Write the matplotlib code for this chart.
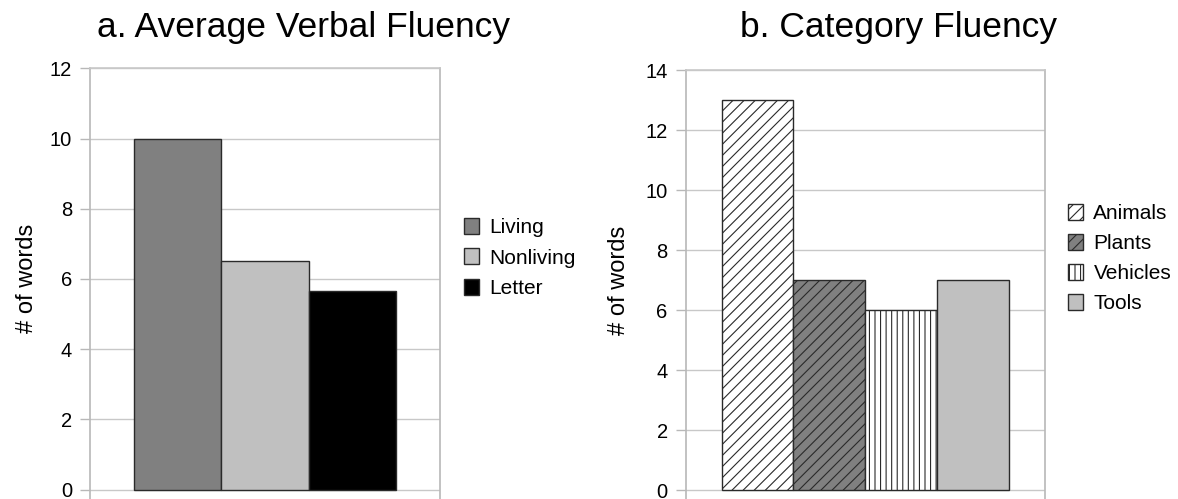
import matplotlib.pyplot as plt
import numpy as np

plt.rcParams["font.family"] = ["Liberation Sans", "DejaVu Sans"]
plt.rcParams["hatch.linewidth"] = 0.8

# panel a: average verbal fluency
verbal_labels = ["Living", "Nonliving", "Letter"]
verbal_values = [10.0, 6.5, 5.65]
verbal_colors = ["#808080", "#c0c0c0", "#000000"]

# panel b: category fluency
category_labels = ["Animals", "Plants", "Vehicles", "Tools"]
category_values = [13, 7, 6, 7]
category_colors = ["#ffffff", "#808080", "#ffffff", "#c0c0c0"]
category_hatches = ["///", "///", "|||", ""]

GRID = "#c8c8c8"
SPINE = "#b8b8b8"
EDGE = "#2a2a2a"

W, H = 1178, 499
fig = plt.figure(figsize=(W / 100, H / 100), dpi=100)


def style_axes(ax, ymax, step):
    ax.set_yticks(np.arange(0, ymax + 1, step))
    ax.grid(True, axis="y", color=GRID, linewidth=1.0)
    ax.set_axisbelow(True)
    ax.spines["bottom"].set_visible(False)
    for side in ["left", "right", "top"]:
        ax.spines[side].set_color(SPINE)
        ax.spines[side].set_linewidth(1.2)
    ax.spines["top"].set_color(GRID)
    ax.tick_params(axis="y", length=7, width=1, color=SPINE, labelsize=14.5, pad=6)
    ax.tick_params(axis="x", length=0, labelbottom=False)


legend_kw = dict(bbox_transform=fig.transFigure, frameon=False, fontsize=15,
                 handlelength=0.72, handleheight=0.8, handletextpad=0.5,
                 borderpad=0, borderaxespad=0, loc="center left")

# --- a. Average Verbal Fluency
ax1 = fig.add_axes([90 / W, 0, 350 / W, (H - 68.3) / H])
x1 = np.arange(len(verbal_values))
for i in range(len(verbal_values)):
    ax1.bar(x1[i], verbal_values[i], width=1.0, color=verbal_colors[i],
            edgecolor=EDGE, linewidth=1.0, label=verbal_labels[i])
ax1.set_xlim(-1, len(verbal_values))
ax1.set_ylim(-(H - 489.5) / 35.1, 12)
style_axes(ax1, 12, 2)
ax1.legend(bbox_to_anchor=(464 / W, 1 - 258 / H), labelspacing=0.53, **legend_kw)
fig.text(303.5 / W, 1 - 37 / H, "a. Average Verbal Fluency", fontsize=25.5,
         ha="center", va="baseline")
fig.text(27 / W, 1 - 278 / H, "# of words", fontsize=17, rotation=90,
         ha="center", va="center")

# --- b. Category Fluency
ax2 = fig.add_axes([685.7 / W, 0, 359 / W, (H - 70) / H])
x2 = np.arange(len(category_values))
for i in range(len(category_values)):
    ax2.bar(x2[i], category_values[i], width=1.0, color=category_colors[i],
            edgecolor=EDGE, linewidth=1.0, hatch=category_hatches[i],
            label=category_labels[i])
ax2.set_xlim(-1, len(category_values))
ax2.set_ylim(-(H - 490) / 30.0, 14)
style_axes(ax2, 14, 2)
ax2.legend(bbox_to_anchor=(1068 / W, 1 - 258.3 / H), labelspacing=0.52, **legend_kw)
fig.text(899 / W, 1 - 37 / H, "b. Category Fluency", fontsize=25.5,
         ha="center", va="baseline")
fig.text(619 / W, 1 - 280 / H, "# of words", fontsize=17, rotation=90,
         ha="center", va="center")

fig.savefig("out.png", dpi=100)
